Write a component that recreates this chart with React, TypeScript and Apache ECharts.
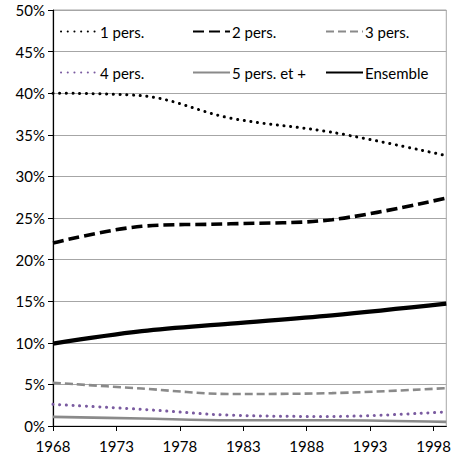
import React, { useEffect, useRef } from "react";
import * as echarts from "echarts";

const years = [1968, 1975, 1982, 1990, 1999];
const pers1 = [40.0, 39.7, 37.0, 35.3, 32.5];
const pers2 = [22.0, 24.0, 24.3, 24.8, 27.4];
const pers3 = [5.2, 4.5, 3.85, 3.95, 4.55];
const pers4 = [2.6, 2.0, 1.3, 1.15, 1.7];
const pers5 = [1.1, 0.9, 0.7, 0.7, 0.5];
const ensemble = [9.9, 11.4, 12.3, 13.3, 14.7];
const xTicks = [1968, 1973, 1978, 1983, 1988, 1993, 1998];
const seriesNames = ["1 pers.", "2 pers.", "3 pers.", "4 pers.", "5 pers. et +", "Ensemble"];

const FONT = "Lato";

export default function App() {
  const ref = useRef<HTMLDivElement>(null);
  useEffect(() => {
    if (!ref.current) return;
    const chart = echarts.init(ref.current, undefined, { renderer: "svg" });
    const pair = (vals: number[]) => years.map((y, i) => [y, vals[i]]);
    const styles: any[] = [
      { color: "#000", width: 3, type: [0.1, 6.6], cap: "round" },
      { color: "#000", width: 3.6, type: [11, 5] },
      { color: "#8a8a8a", width: 2.6, type: [8, 4] },
      { color: "#7a5ba0", width: 3, type: [0.1, 6.6], cap: "round" },
      { color: "#8a8a8a", width: 2.6, type: "solid" },
      { color: "#000", width: 4.2, type: "solid" },
    ];
    const data = [pers1, pers2, pers3, pers4, pers5, ensemble];
    const legendPos = [
      [60, 24], [192, 24], [325, 24],
      [60, 65], [192, 65], [325, 65],
    ];
    chart.setOption({
      animation: false,
      grid: {
        left: 53, right: 4, top: 10, bottom: 34,
        show: true, borderColor: "#a6a6a6", borderWidth: 1, backgroundColor: "transparent",
      },
      legend: seriesNames.map((n, i) => ({
        data: [n],
        left: legendPos[i][0],
        top: legendPos[i][1],
        padding: 0,
        itemWidth: 37,
        itemHeight: 14,
        itemGap: 3,
        itemStyle: { color: "transparent", borderWidth: 0, opacity: 0 },
        textStyle: { fontFamily: FONT, fontSize: 15, color: "#000", padding: [0, 0, 0, -3] },
        selectedMode: false,
      })),
      xAxis: {
        type: "value",
        min: 1968,
        max: 1999,
        interval: 5,
        axisLine: { show: true, lineStyle: { color: "#000", width: 1.2 } },
        axisTick: { show: true, length: 5, lineStyle: { color: "#000" }, customValues: xTicks },
        axisLabel: {
          fontFamily: FONT, fontSize: 15, color: "#000", margin: 12,
          customValues: xTicks,
          formatter: (v: number) => String(v),
        },
        splitLine: { show: false },
      },
      yAxis: {
        type: "value",
        min: 0,
        max: 50,
        interval: 5,
        axisLine: { show: true, lineStyle: { color: "#000", width: 1.2 } },
        axisTick: { show: true, length: 5, lineStyle: { color: "#000" } },
        axisLabel: { fontFamily: FONT, fontSize: 15, color: "#000", margin: 8, formatter: "{value}%" },
        splitLine: { show: true, lineStyle: { color: "#a6a6a6", width: 1 } },
      },
      series: seriesNames.map((n, i) => ({
        name: n,
        type: "line",
        data: pair(data[i]),
        smooth: 0.35,
        symbol: "none",
        lineStyle: styles[i],
        itemStyle: { color: styles[i].color },
        z: i === 5 ? 3 : 2,
      })),
    });
    return () => chart.dispose();
  }, []);
  return (
    <div
      ref={ref}
      style={{ position: "absolute", left: 0, top: 0, width: 454, height: 460, background: "#fff" }}
    />
  );
}
